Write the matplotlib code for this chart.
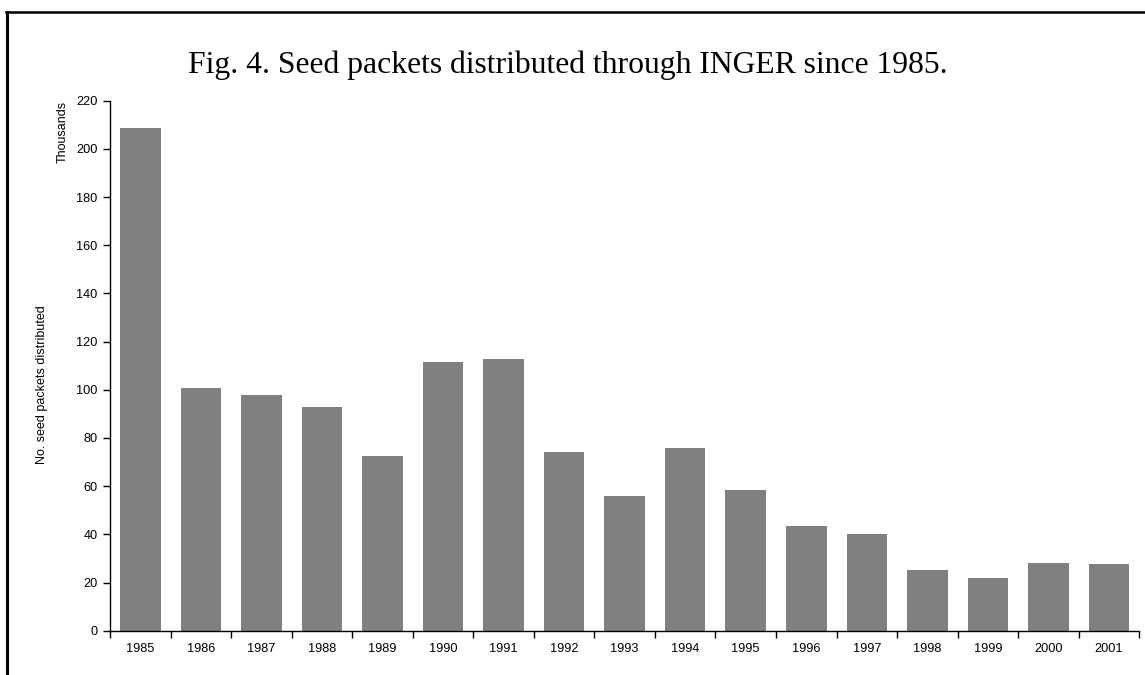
import numpy as np
import matplotlib
matplotlib.use("Agg")
import matplotlib.pyplot as plt
from matplotlib.lines import Line2D
from matplotlib.ticker import FixedLocator, NullFormatter

years = ['1985', '1986', '1987', '1988', '1989', '1990', '1991', '1992', '1993',
         '1994', '1995', '1996', '1997', '1998', '1999', '2000', '2001']
packets = [208.8, 100.8, 97.9, 92.9, 72.5, 111.6, 112.8, 74.2, 55.8,
           75.9, 58.3, 43.4, 40.1, 25.1, 21.8, 28.0, 27.6]
y_ticks = [0, 20, 40, 60, 80, 100, 120, 140, 160, 180, 200, 220]

W, H = 1145, 675
fig = plt.figure(figsize=(W / 100, H / 100), dpi=100)
ax = fig.add_axes([110 / W, 1 - 630.7 / H, (1139.3 - 110) / W, (630.7 - 100.7) / H])

x = np.arange(len(years))
ax.bar(x, packets, width=0.67, color='#808080', linewidth=0)

ax.set_xlim(-0.5, len(years) - 0.5)
ax.set_ylim(0, 220)
ax.set_yticks(y_ticks)
ax.set_xticks(x)
ax.set_xticklabels(years)
# ticks sit between the categories, like the original
ax.xaxis.set_minor_locator(FixedLocator(np.arange(len(years) + 1) - 0.5))
ax.xaxis.set_minor_formatter(NullFormatter())

for s in ['top', 'right']:
    ax.spines[s].set_visible(False)
for s in ['left', 'bottom']:
    ax.spines[s].set_linewidth(1.0)
    ax.spines[s].set_color('black')

tick_font = 'Liberation Sans'
ax.tick_params(axis='x', which='major', length=0, pad=9, labelsize=9.2)
ax.tick_params(axis='x', which='minor', length=5, width=1, direction='out')
ax.tick_params(axis='y', length=5, width=1, direction='out', pad=4, labelsize=9.2)
for lab in ax.get_xticklabels() + ax.get_yticklabels():
    lab.set_fontfamily(tick_font)

fig.text(63 / W, 1 - 101 / H, 'Thousands', rotation=90, ha='center', va='top',
         fontsize=9, family=tick_font)
fig.text(42 / W, 1 - 385 / H, 'No. seed packets distributed', rotation=90,
         ha='center', va='center', fontsize=9, family=tick_font)

fig.text(568 / W, 1 - 73 / H, 'Fig. 4. Seed packets distributed through INGER since 1985.',
         ha='center', va='baseline', fontsize=22.8, family='Liberation Serif')

# frame around the figure (top and left edges)
fig.add_artist(Line2D([6 / W, 1], [1 - 12 / H, 1 - 12 / H], color='black',
                      linewidth=1.8, transform=fig.transFigure))
fig.add_artist(Line2D([7 / W, 7 / W], [0, 1 - 12 / H], color='black',
                      linewidth=2.2, transform=fig.transFigure))

fig.savefig('out.png', dpi=100)
